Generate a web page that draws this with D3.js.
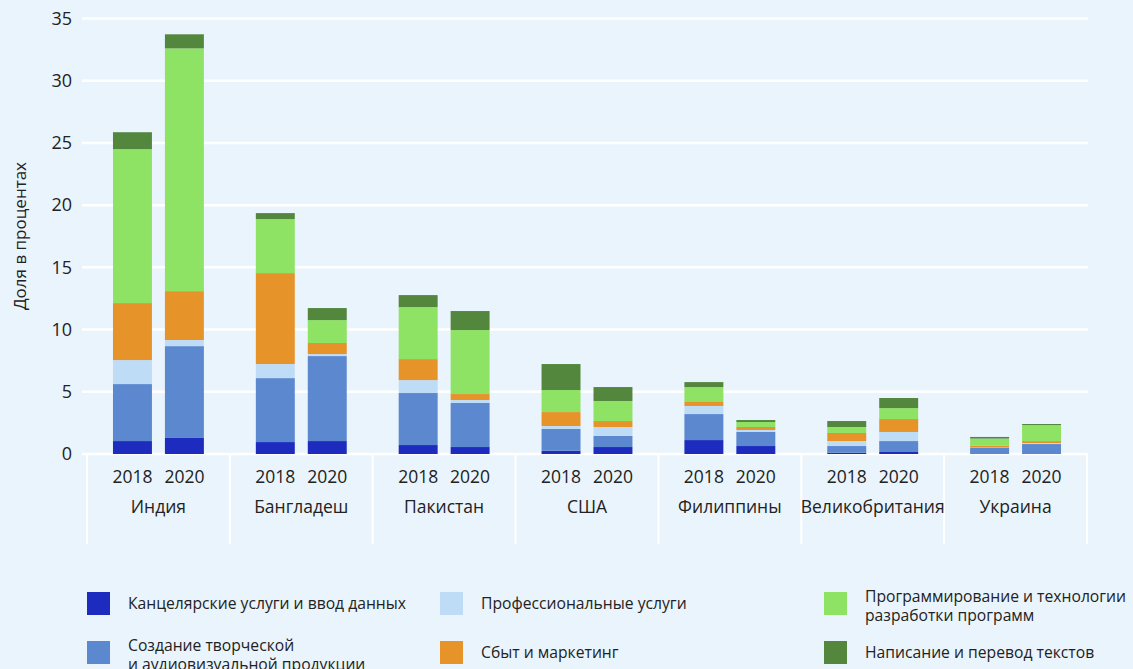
<!DOCTYPE html>
<html>
<head>
<meta charset="utf-8">
<script src="https://cdn.jsdelivr.net/npm/d3@7"></script>
<style>
  body { margin: 0; background: #eaf4fc; font-family: "Open Sans", "Noto Sans", sans-serif; }
  text { fill: #222; }
</style>
</head>
<body>
<svg id="chart" width="1133" height="669"></svg>
<script>
// countries and years along the x axis
const countries = ["Индия", "Бангладеш", "Пакистан", "США", "Филиппины", "Великобритания", "Украина"];
const years = ["2018", "2020"];

// occupation categories, bottom to top of each stack
const categories = [
    "Канцелярские услуги и ввод данных",
    "Создание творческой и аудиовизуальной продукции",
    "Профессиональные услуги",
    "Сбыт и маркетинг",
    "Программирование и технологии разработки программ",
    "Написание и перевод текстов"
];
const colors = ["#1d2cbf", "#5b88cf", "#bfdcf7", "#e6942a", "#8ee264", "#53873e"];

// values per country and year, in the category order above
const values2018 = [
    [1.04, 4.58, 1.93, 4.58, 12.37, 1.36],  // Индия
    [0.96, 5.14, 1.13, 7.31, 4.34, 0.48],   // Бангладеш
    [0.72, 4.18, 1.04, 1.69, 4.18, 0.96],   // Пакистан
    [0.26, 1.75, 0.24, 1.12, 1.77, 2.09],   // США
    [1.12, 2.09, 0.65, 0.32, 1.20, 0.40],   // Филиппины
    [0.10, 0.54, 0.40, 0.65, 0.48, 0.48],   // Великобритания
    [0.05, 0.45, 0.02, 0.16, 0.56, 0.13]    // Украина
];
const values2020 = [
    [1.29, 7.38, 0.49, 3.93, 19.51, 1.13],
    [1.04, 6.83, 0.16, 0.89, 1.84, 0.97],
    [0.56, 3.54, 0.24, 0.48, 5.14, 1.53],
    [0.56, 0.89, 0.72, 0.48, 1.61, 1.12],
    [0.64, 1.13, 0.16, 0.24, 0.40, 0.16],
    [0.16, 0.88, 0.73, 1.04, 0.88, 0.81],
    [0.05, 0.75, 0.08, 0.16, 1.29, 0.08]
];
const yTicks = [0, 5, 10, 15, 20, 25, 30, 35];

// legend labels split into lines, laid out in 3 columns x 2 rows
const legendLines = [
    ["Канцелярские услуги и ввод данных"],
    ["Создание творческой", "и аудиовизуальной продукции"],
    ["Профессиональные услуги"],
    ["Сбыт и маркетинг"],
    ["Программирование и технологии", "разработки программ"],
    ["Написание и перевод текстов"]
];

const svg = d3.select("#chart");

let x0 = d3.scaleBand().domain(countries).range([87, 1087]);
let x1 = d3.scaleBand().domain(years).range([0, x0.bandwidth()]).paddingInner(0.25).paddingOuter(0.5);
let y = d3.scaleLinear().domain([0, 35]).range([454, 18.5]);

// gridlines
svg.append("g")
    .selectAll("line")
    .data(yTicks)
    .enter().append("line")
    .attr("x1", 82).attr("x2", 1088)
    .attr("y1", d => y(d)).attr("y2", d => y(d))
    .attr("stroke", "#fff").attr("stroke-width", 2.5);

// y tick labels
svg.append("g")
    .selectAll("text")
    .data(yTicks)
    .enter().append("text")
    .attr("x", 72)
    .attr("y", d => y(d))
    .attr("dy", "0.35em")
    .attr("text-anchor", "end")
    .attr("font-size", 18)
    .text(d => d);

svg.append("text")
    .attr("transform", "translate(26,236) rotate(-90)")
    .attr("text-anchor", "middle")
    .attr("font-size", 17)
    .text("Доля в процентах");

// group separators under the axis
svg.append("g")
    .selectAll("line")
    .data(countries.concat(["end"]))
    .enter().append("line")
    .attr("x1", (d, i) => i < countries.length ? x0(d) : x0.range()[1])
    .attr("x2", (d, i) => i < countries.length ? x0(d) : x0.range()[1])
    .attr("y1", y(0)).attr("y2", 544)
    .attr("stroke", "#fff").attr("stroke-width", 2);

// stacked bars
const data = [];
countries.forEach(function(c, i) {
    [values2018[i], values2020[i]].forEach(function(vals, j) {
        let acc = 0;
        vals.forEach(function(v, k) {
            data.push({ country: c, year: years[j], cat: k, y0: acc, y1: acc + v });
            acc += v;
        });
    });
});

svg.append("g")
    .selectAll("rect")
    .data(data)
    .enter().append("rect")
    .attr("x", d => x0(d.country) + x1(d.year))
    .attr("width", x1.bandwidth())
    .attr("y", d => y(d.y1))
    .attr("height", d => y(d.y0) - y(d.y1))
    .attr("fill", d => colors[d.cat]);

// year labels and country names
const labels = svg.append("g");
countries.forEach(function(c) {
    years.forEach(function(yr) {
        labels.append("text")
            .attr("x", x0(c) + x1(yr) + x1.bandwidth() / 2)
            .attr("y", 477)
            .attr("dy", "0.35em")
            .attr("text-anchor", "middle")
            .attr("font-size", 17.5)
            .text(yr);
    });
    labels.append("text")
        .attr("x", x0(c) + x0.bandwidth() / 2)
        .attr("y", 507)
        .attr("dy", "0.35em")
        .attr("text-anchor", "middle")
        .attr("font-size", 17.5)
        .text(c);
});

// legend
const colX = [87, 440, 824];
const rowY = [592, 641];
const legend = svg.append("g");
legendLines.forEach(function(lines, i) {
    let col = Math.floor(i / 2), row = i % 2;
    let g = legend.append("g").attr("transform", "translate(" + colX[col] + "," + rowY[row] + ")");
    g.append("rect").attr("width", 23).attr("height", 23).attr("fill", colors[i]);
    let t = g.append("text").attr("font-size", 15.7);
    let startY = lines.length === 1 ? 11.5 : 4;
    lines.forEach(function(l, n) {
        t.append("tspan")
            .attr("x", 41)
            .attr("y", startY + n * 20)
            .attr("dy", "0.35em")
            .text(l);
    });
});
</script>
</body>
</html>
